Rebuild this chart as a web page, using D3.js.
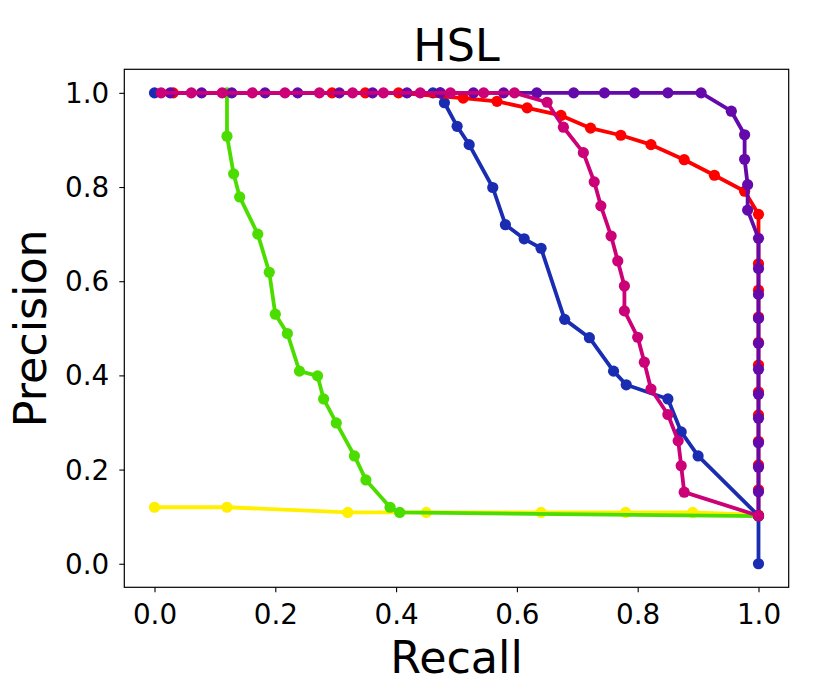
<!DOCTYPE html>
<html>
<head>
<meta charset="utf-8">
<script src="https://cdn.jsdelivr.net/npm/d3@7"></script>
<style>
  html, body { margin: 0; padding: 0; background: #fff; }
  svg { display: block; font-family: "DejaVu Sans", sans-serif; }
</style>
</head>
<body>
<svg id="chart" width="830" height="692"></svg>
<script>
// ---- Data ----
const xTicks = [0.0, 0.2, 0.4, 0.6, 0.8, 1.0];
const yTicks = [0.0, 0.2, 0.4, 0.6, 0.8, 1.0];

const yellowRecall    = [0.0, 0.12, 0.32, 0.45, 0.64, 0.78, 0.891, 1.0];
const yellowPrecision = [0.120, 0.120, 0.109, 0.109, 0.109, 0.109, 0.109, 0.104];

const greenRecall    = [0.12, 0.12, 0.131, 0.141, 0.171, 0.190, 0.200, 0.220, 0.240, 0.270, 0.280, 0.301, 0.331, 0.350, 0.390, 0.406, 1.0];
const greenPrecision = [1.0, 0.908, 0.828, 0.779, 0.700, 0.619, 0.530, 0.489, 0.409, 0.399, 0.350, 0.299, 0.229, 0.178, 0.120, 0.109, 0.101];

const blueRecall    = [0.0, 0.461, 0.473, 0.480, 0.501, 0.521, 0.560, 0.581, 0.612, 0.640, 0.679, 0.720, 0.760, 0.781, 0.850, 0.872, 0.900, 1.0, 1.0];
const bluePrecision = [1.0, 1.0, 1.0, 0.979, 0.929, 0.890, 0.799, 0.720, 0.690, 0.670, 0.519, 0.480, 0.409, 0.380, 0.350, 0.280, 0.229, 0.102, 0.0];

const redRecall    = [0.031, 0.294, 0.349, 0.404, 0.511, 0.567, 0.617, 0.673, 0.722, 0.772, 0.822, 0.877, 0.927, 0.977, 1.0, 1.0, 1.0, 1.0, 1.0, 1.0, 1.0, 1.0, 1.0, 1.0, 1.0, 1.0];
const redPrecision = [1.0, 1.0, 1.0, 1.0, 0.989, 0.982, 0.968, 0.952, 0.925, 0.910, 0.890, 0.858, 0.825, 0.791, 0.742, 0.637, 0.581, 0.524, 0.470, 0.422, 0.365, 0.316, 0.260, 0.210, 0.157, 0.102];

const purpleRecall    = [0.026, 0.078, 0.128, 0.183, 0.237, 0.306, 0.361, 0.418, 0.473, 0.528, 0.578, 0.633, 0.694, 0.745, 0.795, 0.850, 0.905, 0.955, 0.977, 0.977, 0.982, 0.982, 1.0, 1.0, 1.0, 1.0, 1.0, 1.0, 1.0, 1.0, 1.0, 1.0, 1.0, 1.0];
const purplePrecision = [1.0, 1.0, 1.0, 1.0, 1.0, 1.0, 1.0, 1.0, 1.0, 1.0, 1.0, 1.0, 1.0, 1.0, 1.0, 1.0, 1.0, 0.961, 0.911, 0.859, 0.805, 0.751, 0.691, 0.627, 0.572, 0.521, 0.468, 0.413, 0.360, 0.309, 0.257, 0.205, 0.153, 0.102];

const magentaRecall    = [0.011, 0.061, 0.112, 0.162, 0.216, 0.273, 0.328, 0.379, 0.440, 0.490, 0.545, 0.596, 0.650, 0.677, 0.710, 0.728, 0.739, 0.756, 0.767, 0.778, 0.778, 0.800, 0.811, 0.822, 0.850, 0.867, 0.872, 0.877, 1.0];
const magentaPrecision = [1.0, 1.0, 1.0, 1.0, 1.0, 1.0, 1.0, 1.0, 1.0, 1.0, 1.0, 1.0, 0.980, 0.927, 0.873, 0.811, 0.760, 0.696, 0.643, 0.590, 0.537, 0.481, 0.428, 0.371, 0.317, 0.261, 0.208, 0.152, 0.102];

const seriesNames  = ["yellow", "green", "blue", "red", "purple", "magenta"];
const seriesColors = ["#fff000", "#4cdd00", "#1a2db2", "#ff0000", "#640aaa", "#cc0077"];
const seriesRecall = [yellowRecall, greenRecall, blueRecall, redRecall, purpleRecall, magentaRecall];
const seriesPrec   = [yellowPrecision, greenPrecision, bluePrecision, redPrecision, purplePrecision, magentaPrecision];

const titleText = "HSL";
const xLabel = "Recall";
const yLabel = "Precision";

// ---- Layout ----
const svg = d3.select("#chart");
const axLeft = 124.3, axRight = 788.7, axTop = 69.3, axBottom = 587.3;

const x = d3.scaleLinear().domain([-0.05, 1.05]).range([axLeft, axRight]);
const y = d3.scaleLinear().domain([-0.05, 1.05]).range([axBottom, axTop]);

// series
const line = d3.line().x(d => x(d[0])).y(d => y(d[1]));
const plot = svg.append("g");
seriesNames.forEach((name, i) => {
  const pts = seriesRecall[i].map((r, j) => [r, seriesPrec[i][j]]);
  const g = plot.append("g").attr("class", "series-" + name);
  g.append("path")
    .datum(pts)
    .attr("d", line)
    .attr("fill", "none")
    .attr("stroke", seriesColors[i])
    .attr("stroke-width", 3.8)
    .attr("stroke-linejoin", "round")
    .attr("stroke-linecap", "butt");
  g.selectAll("circle").data(pts).enter().append("circle")
    .attr("cx", d => x(d[0]))
    .attr("cy", d => y(d[1]))
    .attr("r", 5.6)
    .attr("fill", seriesColors[i]);
});

// axes
const xAxis = d3.axisBottom(x).tickValues(xTicks).tickFormat(d3.format(".1f")).tickSize(5).tickPadding(8);
const yAxis = d3.axisLeft(y).tickValues(yTicks).tickFormat(d3.format(".1f")).tickSize(5).tickPadding(8);

const gx = svg.append("g").attr("transform", `translate(0,${axBottom})`).call(xAxis);
const gy = svg.append("g").attr("transform", `translate(${axLeft},0)`).call(yAxis);
[gx, gy].forEach(g => {
  g.select(".domain").remove();
  g.selectAll(".tick line").attr("stroke", "#000").attr("stroke-width", 1.1);
  g.selectAll(".tick text")
    .attr("font-family", "DejaVu Sans")
    .attr("font-size", 27.8)
    .attr("fill", "#000");
});
gx.selectAll(".tick text").attr("dy", null).attr("y", 37);
gy.selectAll(".tick text").attr("dy", null).attr("dominant-baseline", "central").attr("x", -15);

// frame
svg.append("rect")
  .attr("x", axLeft).attr("y", axTop)
  .attr("width", axRight - axLeft).attr("height", axBottom - axTop)
  .attr("fill", "none").attr("stroke", "#000").attr("stroke-width", 1.2);

// labels
svg.append("text")
  .attr("x", (axLeft + axRight) / 2).attr("y", 60.5)
  .attr("text-anchor", "middle")
  .attr("font-size", 44.4).attr("fill", "#000")
  .text(titleText);

svg.append("text")
  .attr("x", (axLeft + axRight) / 2).attr("y", 673)
  .attr("text-anchor", "middle")
  .attr("font-size", 44.4).attr("fill", "#000")
  .text(xLabel);

svg.append("text")
  .attr("transform", `translate(46,${(axTop + axBottom) / 2}) rotate(-90)`)
  .attr("text-anchor", "middle")
  .attr("font-size", 44.4).attr("fill", "#000")
  .text(yLabel);
</script>
</body>
</html>
